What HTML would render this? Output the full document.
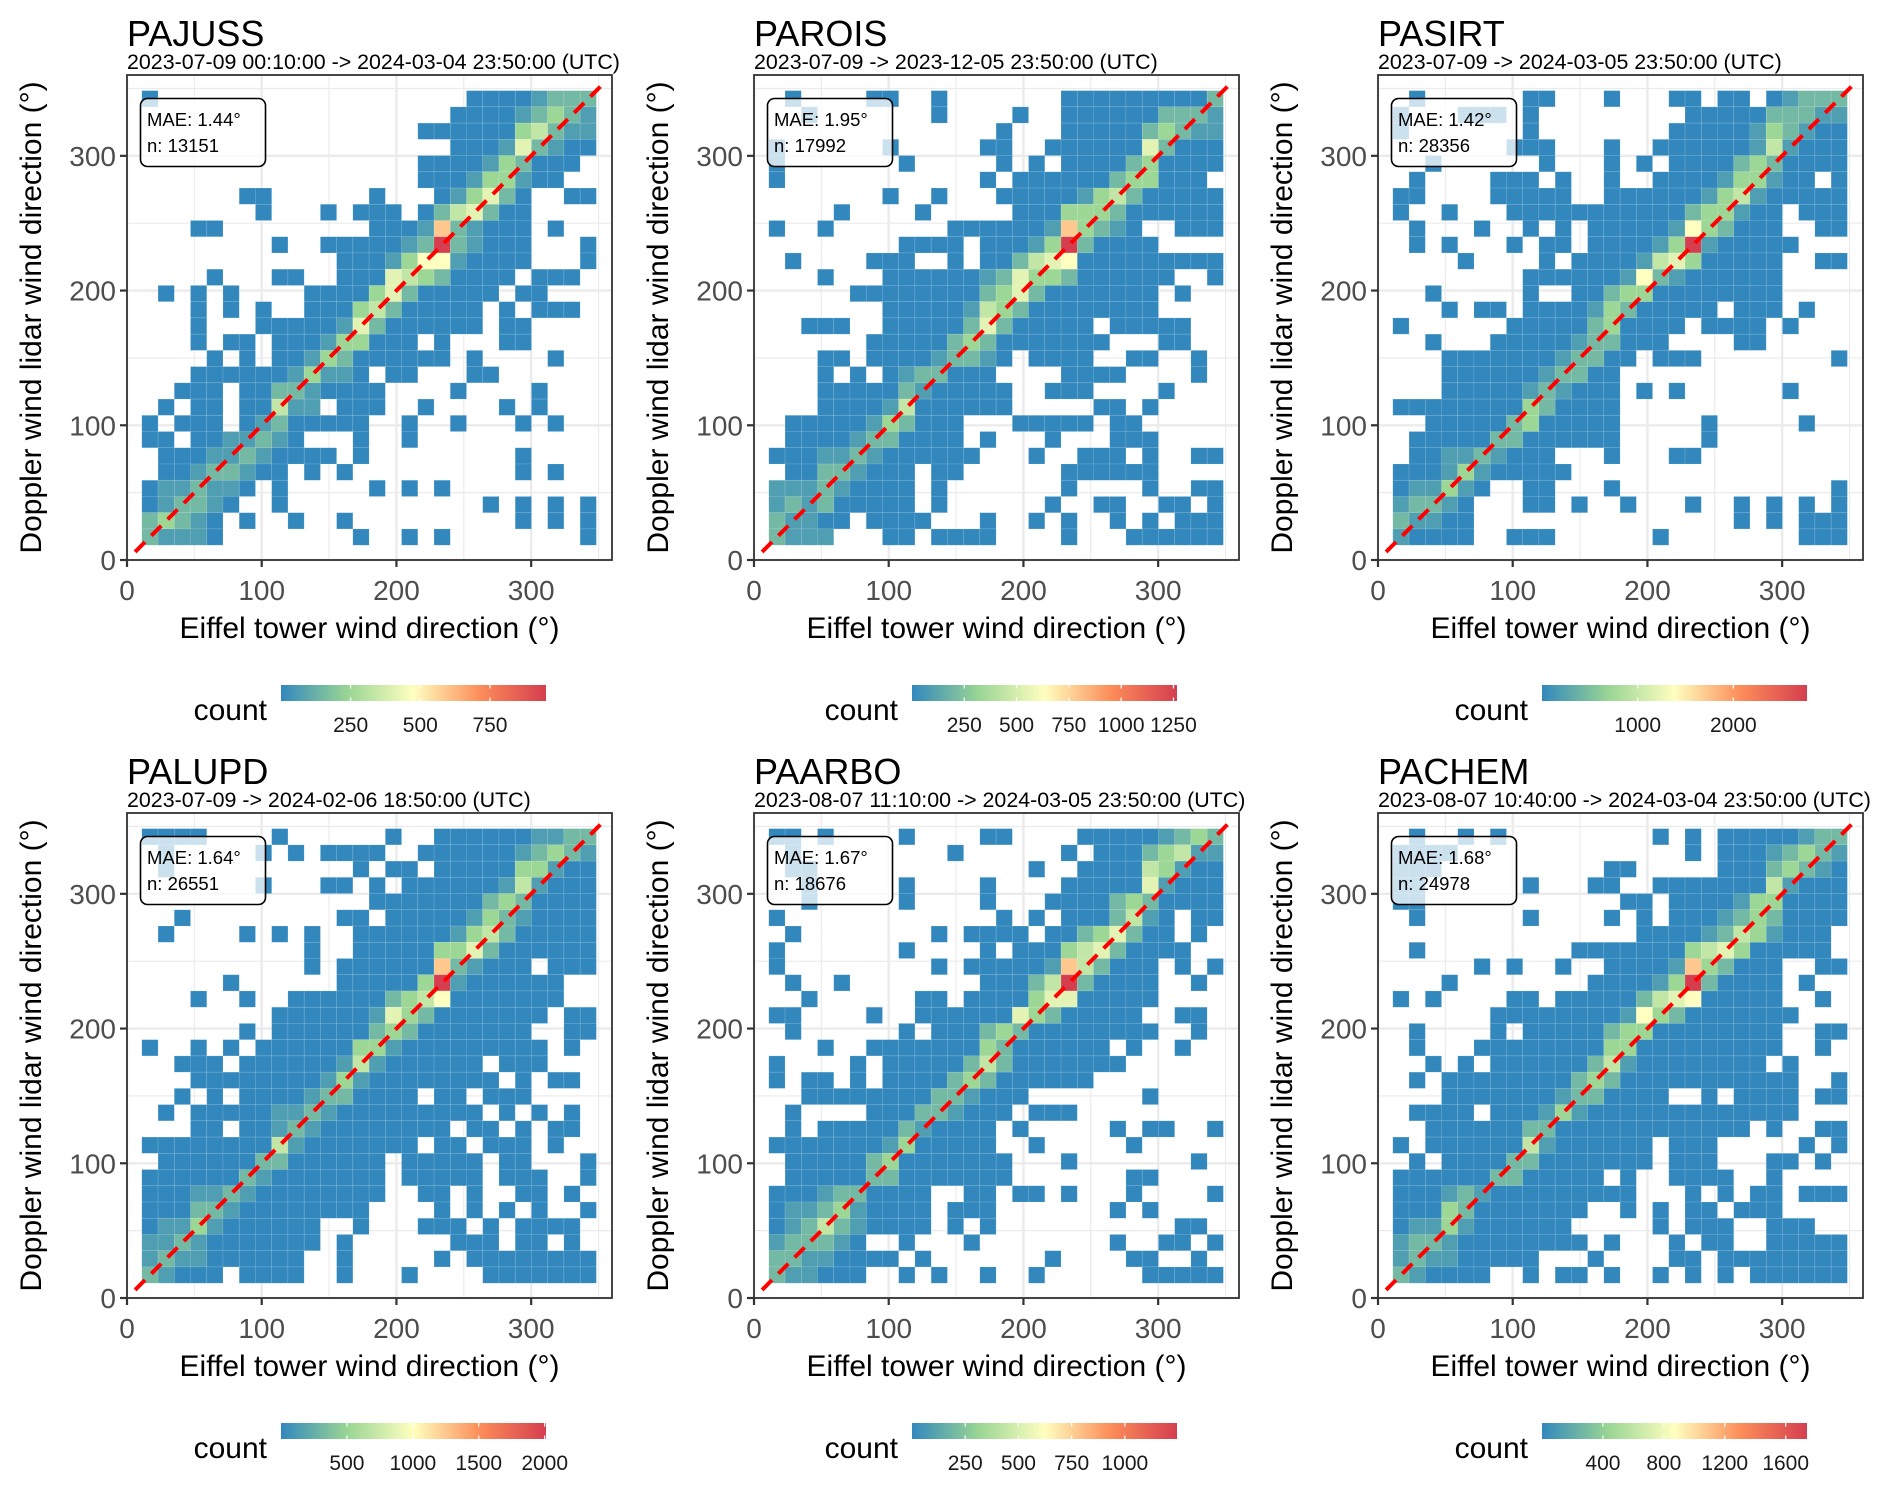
<!DOCTYPE html>
<html><head><meta charset="utf-8"><style>
html,body{margin:0;padding:0;background:#fff;}
svg{display:block;font-family:"Liberation Sans",Arial,sans-serif;}
</style></head><body>
<svg id="chart" width="1892" height="1489" viewBox="0 0 1892 1489" xmlns="http://www.w3.org/2000/svg">
<defs>
<linearGradient id="spectral" x1="0" x2="1" y1="0" y2="0">
<stop offset="0" stop-color="#3288BD"/><stop offset="0.25" stop-color="#99D594"/><stop offset="0.5" stop-color="#FFFFBF"/><stop offset="0.75" stop-color="#FC8D59"/><stop offset="1" stop-color="#D53E4F"/>
</linearGradient>
</defs>
</svg>
<script>
// ---- data (count levels per cell, rows from top = high lidar direction) ----
const stationNames = ["PAJUSS","PAROIS","PASIRT","PALUPD","PAARBO","PACHEM"];
const subtitles = ["2023-07-09 00:10:00 -> 2024-03-04 23:50:00 (UTC)","2023-07-09 -> 2023-12-05 23:50:00 (UTC)","2023-07-09 -> 2024-03-05 23:50:00 (UTC)","2023-07-09 -> 2024-02-06 18:50:00 (UTC)","2023-08-07 11:10:00 -> 2024-03-05 23:50:00 (UTC)","2023-08-07 10:40:00 -> 2024-03-04 23:50:00 (UTC)"];
const maeValues = ["1.44","1.95","1.42","1.64","1.67","1.68"];
const nValues = ["13151","17992","28356","26551","18676","24978"];
const countMax = [951, 1267, 2770, 2010, 1245, 1740];
const legendTicks = [[250,500,750],[250,500,750,1000,1250],[1000,2000],[500,1000,1500,2000],[250,500,750,1000],[400,800,1200,1600]];
const axisTicks = [0,100,200,300];
const minorTicks = [50,150,250,350];
const levelFraction = [0,0,0.07,0.16,0.26,0.35,0.43,0.5,0.62,1];
const binStart = 11, binWidth = 12.05;

const gridPAJUSS = ["1000000000000000000011112333","0000000000000000000111123432","0000000000000000011111145322","0000000000000000000111263211","0000000000000000011112431110","0000000000000000011124421100","0000001100000010001246310011","0000000100010111013563110000","0001100000000011128321110100","0000000010011111239321110001","0000000000001112477211110001","0000100011001116543111101110","0101010000111146311111011000","0001010100111453111110101110","0001000111112631111110110000","0001011011124411101000110000","0000101011243111111010000100","0001111112422101100011000000","0011101133211110000100001000","0101101152201110010000101000","1011101231111100100100010100","1101122321000100100000000000","0111223211110100000000010000","0112332110101000000000010100","1223221010000010101000000000","1233210010000000000001010101","3432101001001000000000010101","3222100000000100101000000001"];
const gridPAROIS = ["0100001100100000001111111113","0010000000100001001111113332","0000000000000010001111134322","1000000100000110011111163111","1000000010000010101111341111","1000000000000101111113441110","0000000100100011111245311111","0000100001000001114443111111","1001000000011111128432100111","0000000011110111249311110000","0100001110010113567111111111","0001000111111236443111111001","0000011111111346311111110100","0000000111112543111111110000","0011100111113631111101111100","0000001111134311111110001100","0001101111233210111100110010","0001010123311100001111000010","0001111132111110011100001000","0001111251111110000011010000","0111112431110001111101100000","0111123311110100010001110000","1112232111111000100111010011","0113321110110000001111110000","2223211110100000001000010011","2323111110100000010011001101","3221101111000100101001010111","3222000110111100001000111111"];
const gridPASIRT = ["0100000011000100011011012333","1000111010000000001111133322","1000000010000000011111243211","0000000111000100111111252111","0010000001000101011113431111","0100001110100100111124421101","1100001111100111111245211111","1001000111111111113442110111","0100010010101111127431110011","0101000101101111249211111000","0000100001011112564111110011","0000000011111127321111110000","0010000010011344111111110000","0001011011112431111101110100","1000000111113411110111101000","0010001111123311100001100000","0001111111233110111000000001","0001111112331100000000000000","0001111123211101010000001000","1111111143111100000000000000","0011111341111100000100000100","0111113311111100000100000000","0112232111000100011000000000","1112421111100000000000000000","1224210011000100000000000001","2332100011010010001001010101","3221100000000000000001010111","2111100111000000100000000111"];
const gridPALUPD = ["1111000010000001001111112233","0100000101011110011111123432","0100000000000101101111144211","0000000100011010111111252111","0000000000000011111113431111","0010000000001101111124321111","0100001010100111111245311111","0000000000100111114463111111","0000000000101111118321110111","0000010000001111149211111100","0001001001111113457111111100","0000000011111126431111111011","0000001011111134311111110011","1001010111111442111111111010","0011101111112521111110111000","0001111111124211111111010110","0010101111233111101101110000","0101111122321111111110101010","0001101123211111111011010110","1111111152111111101101110100","0111111331111110111110110001","1111113211111110111110111001","1112232111111110011010011010","1113321111111100001010101001","1224211111100100011101011110","2232111111101000000111011010","2322111111001000001011111111","3211101111001000100001111111"];
const gridPAARBO = ["1101000010000110000111112343","0100000000010000001011134522","0110000000000000100111154211","0010000010000100001111162111","0010000010000100011113431111","1000000000000010101113521011","0100000000101111011346311010","1000000010000101114563111100","1000000000101111128531110101","0100100000000111359311110010","0010000001101111466111110000","1100001001111116431111100110","0100000010111343111111110010","0001001111111431111110100100","1000010111113531111111000000","1011010111134311111100000000","0011111111332111000000010000","0100001113321110111000000000","0101111132111101000001011001","1111111241111100100000100000","0111113411111110001000000010","0111113311111110000000110000","1112331111001101101000100001","1223421111011100000001010000","1235321111010100000000000110","2333210010001000000001001101","3322111101000000010000110010","3221110010100100100000011111"];
const gridPACHEM = ["0100101000000000101011111233","1111000000000000001011123432","1110000000000110000011134321","1100000010001100111111152111","1100000000000011011112441111","0100000010000101011123431111","0000000000000001111235421110","0100000000011111114564111110","0000010100100111128431110011","0001000000001111249311110100","1010000110111113567111110010","0000001111111127431111111000","0100001011111344111111110011","0100011111111441111111110010","0010101111113521111111101000","0101111111134311111111111001","0001111111233111100101111011","0111101112421111111111111000","0011111133111111111111010011","1011111152111111011100000101","0101111331111111011100011010","1111113311111010011110010000","1112321111111110001010110111","1114311111110010101101110000","1224211111100000101110011100","2332111111110100010110011111","2322111110001000011011111111","3211110010110100101010111111"];
const panelGrids = [gridPAJUSS, gridPAROIS, gridPASIRT, gridPALUPD, gridPAARBO, gridPACHEM];

// ---- layout ----
const NS = "http://www.w3.org/2000/svg";
const svg = document.getElementById("chart");
const colLefts = [127, 754, 1378];
const rowTops = [75, 813];
const legendLefts = [281, 912, 1542];
const SIZE = 485, DOMAIN = 360;

function mk(tag, attrs, parent) {
  const e = document.createElementNS(NS, tag);
  for (const k in attrs) e.setAttribute(k, attrs[k]);
  parent.appendChild(e);
  return e;
}
const stops = [[0,[50,136,189]],[0.25,[153,213,148]],[0.5,[255,255,191]],[0.75,[252,141,89]],[1,[213,62,79]]];
function colorOf(t) {
  t = Math.max(0, Math.min(1, t));
  for (let i = 1; i < stops.length; i++) {
    if (t <= stops[i][0]) {
      const a = stops[i-1], b = stops[i], f = (t - a[0]) / (b[0] - a[0]);
      const c = a[1].map((v, j) => Math.round(v + (b[1][j] - v) * f));
      return "rgb(" + c.join(",") + ")";
    }
  }
  return "rgb(213,62,79)";
}

panelGrids.forEach((grid, p) => {
  const col = p % 3, row = Math.floor(p / 3);
  const L = colLefts[col], T = rowTops[row];
  const xS = v => L + v * SIZE / DOMAIN;
  const yS = v => T + SIZE - v * SIZE / DOMAIN;
  const g = mk("g", {}, svg);
  
  

  const title = mk("text", {x: L, y: T - 29, "font-size": 36, fill: "#000"}, g);
  
  
  title.textContent = stationNames[p];
  const sub = mk("text", {x: L, y: T - 6, "font-size": 21.4, fill: "#000"}, g);
  
  
  sub.textContent = subtitles[p];

  mk("rect", {x: L, y: T, width: SIZE, height: SIZE, fill: "#fff"}, g);
  minorTicks.forEach(v => {
    const gx = mk("line", {x1: xS(v), x2: xS(v), y1: T, y2: T + SIZE, stroke: "#ebebeb", "stroke-width": 1.2}, g);
    
    
    const gy = mk("line", {x1: L, x2: L + SIZE, y1: yS(v), y2: yS(v), stroke: "#ebebeb", "stroke-width": 1.2}, g);
    
    
  });
  axisTicks.forEach(v => {
    const gx = mk("line", {x1: xS(v), x2: xS(v), y1: T, y2: T + SIZE, stroke: "#ebebeb", "stroke-width": 2.4}, g);
    
    
    const gy = mk("line", {x1: L, x2: L + SIZE, y1: yS(v), y2: yS(v), stroke: "#ebebeb", "stroke-width": 2.4}, g);
    
    
  });

  grid.forEach((rowStr, r) => {
    const yLow = binStart + (grid.length - 1 - r) * binWidth;
    for (let i = 0; i < rowStr.length; i++) {
      const lvl = +rowStr[i];
      if (!lvl) continue;
      const count = levelFraction[lvl] * countMax[p];
      const xLow = binStart + i * binWidth;
      const c = mk("rect", {x: xS(xLow), y: yS(yLow + binWidth), width: xS(xLow + binWidth) - xS(xLow), height: yS(yLow) - yS(yLow + binWidth), fill: colorOf(count / countMax[p]), stroke: "rgba(255,255,255,0.18)", "stroke-width": 0.6}, g);
      
      
    }
  });

  const diag = mk("line", {x1: xS(6), y1: yS(6), x2: xS(353), y2: yS(353), stroke: "#ff0000", "stroke-width": 4, "stroke-dasharray": "14 9"}, g);
  
  

  const box = mk("rect", {x: L + 13.5, y: T + 23.5, width: 125, height: 68, rx: 7, fill: "rgba(255,255,255,0.75)", stroke: "#000", "stroke-width": 1.6}, g);
  
  
  const mae = mk("text", {x: L + 20, y: T + 51, "font-size": 18.5, fill: "#000"}, g);
  
  
  mae.textContent = "MAE: " + maeValues[p] + "°";
  const nl = mk("text", {x: L + 20, y: T + 77, "font-size": 18.5, fill: "#000"}, g);
  
  
  nl.textContent = "n: " + nValues[p];

  const border = mk("rect", {x: L, y: T, width: SIZE, height: SIZE, fill: "none", stroke: "#333", "stroke-width": 1.8}, g);
  
  

  axisTicks.forEach((v, k) => {
    const tx = mk("line", {x1: xS(v), x2: xS(v), y1: T + SIZE, y2: T + SIZE + 7, stroke: "#333", "stroke-width": 2.2}, g);
    
    
    const lx = mk("text", {x: xS(v), y: T + 525, "font-size": 28, fill: "#4d4d4d", "text-anchor": "middle"}, g);
    
    
    lx.textContent = String(axisTicks[k]);
    const ty = mk("line", {x1: L - 7, x2: L, y1: yS(v), y2: yS(v), stroke: "#333", "stroke-width": 2.2}, g);
    
    
    const ly = mk("text", {x: L - 11, y: yS(v) + 10, "font-size": 28, fill: "#4d4d4d", "text-anchor": "end"}, g);
    
    
    ly.textContent = String(axisTicks[k]);
  });

  const xt = mk("text", {x: L + SIZE / 2, y: T + 563, "font-size": 30, fill: "#000", "text-anchor": "middle"}, g);
  
  
  xt.textContent = "Eiffel tower wind direction (°)";
  const cy = T + SIZE / 2, cx = L - 86;
  const yt = mk("text", {x: cx, y: cy, "font-size": 30, fill: "#000", "text-anchor": "middle", transform: "rotate(-90 " + cx + " " + cy + ")"}, g);
  
  
  yt.textContent = "Doppler wind lidar wind direction (°)";

  // legend
  const BL = legendLefts[col], BW = 265, BT = T + 610, BH = 16;
  const lg = mk("g", {}, g);
  
  
  const lt = mk("text", {x: BL - 14, y: T + 645, "font-size": 30, fill: "#000", "text-anchor": "end"}, lg);
  
  
  lt.textContent = "count";
  const bar = mk("rect", {x: BL, y: BT, width: BW, height: BH, fill: "url(#spectral)"}, lg);
  
  
  legendTicks[p].forEach(v => {
    const px = BL + v / countMax[p] * BW;
    const t1 = mk("line", {x1: px, x2: px, y1: BT, y2: BT + 3.5, stroke: "#fff", "stroke-width": 1.2}, lg);
    
    
    const t2 = mk("line", {x1: px, x2: px, y1: BT + BH - 3.5, y2: BT + BH, stroke: "#fff", "stroke-width": 1.2}, lg);
    
    
    const tl = mk("text", {x: px, y: T + 657, "font-size": 21, fill: "#1a1a1a", "text-anchor": "middle"}, lg);
    
    
    tl.textContent = String(v);
  });
});
</script>
</body></html>
